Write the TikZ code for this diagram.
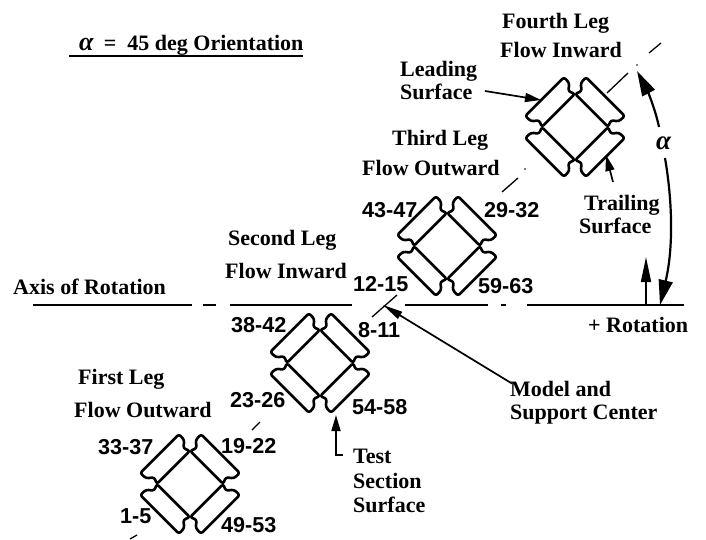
\documentclass[tikz,border=0pt]{standalone}
\usepackage{fontspec}
\setmainfont{Liberation Serif}
\newfontfamily\numfont{Liberation Sans}
\usetikzlibrary{arrows.meta}
\tikzset{
  txt/.style={anchor=base west,inner sep=0pt,font=\bfseries\fontsize{22}{25}\selectfont},
  num/.style={anchor=base west,inner sep=0pt,font=\numfont\bfseries\fontsize{21.6}{24}\selectfont},
  axisline/.style={line width=2.2pt},
  diagline/.style={line width=1.3pt},
  lead/.style={line width=1.7pt,-{Stealth[length=16pt,width=9pt,inset=0pt]}},
  bigarc/.style={line width=2.2pt,-{Stealth[length=25pt,width=14pt,inset=0pt]}},
  pics/barsection/.style={code={
    \foreach \ang in {45,135,225,315} {
      \draw[line width=2.6pt,line join=round,rounded corners=2.5pt,rotate=\ang]
        (23.5,-23.5) -- (20.5,-30) -- (27,-35) -- (27.5,-43) -- (-27.5,-43)
        -- (-27,-35) -- (-20.5,-30) -- (-23.5,-23.5) -- cycle;
    }
  }}
}
\begin{document}
\begin{tikzpicture}[x=1pt,y=-1pt]
  \useasboundingbox (0,0) rectangle (706,539);
  % sections
  \pic (legone) at (190,484) {barsection};
  \pic (legtwo) at (320,363) {barsection};
  \pic (legthree) at (447,246) {barsection};
  \pic (legfour) at (575,127) {barsection};
  % axis
  \draw[axisline] (33,305) -- (192,305);
  \draw[axisline] (203,305) -- (216,305);
  \draw[axisline] (230,305) -- (352,305);
  \draw[axisline] (405,305) -- (488,305);
  \draw[axisline] (501,305) -- (506,305);
  \draw[axisline] (527,305) -- (684,305);
  % line through the sections
  \draw[diagline] (130,539) -- (137,535);
  \draw[diagline] (252,430) -- (260,422);
  \draw[diagline] (372,317) -- (397,295);
  \draw[diagline] (502,192) -- (518,178);
  \fill (525,169) circle (0.9pt);
  \draw[diagline] (607,93) -- (628,73);
  \fill (637,65) circle (0.9pt);
  \draw[diagline] (649,53) -- (661,43);
  % title
  \node[txt] (title) at (79,50) {{\fontsize{26}{26}\selectfont\textit{α}}\hspace{10pt}=\hspace{11pt}45 deg Orientation};
  \coordinate (ulinea) at (69,56);
  \coordinate (ulineb) at (303,56);
  \draw[line width=1.8pt] (ulinea) -- (ulineb);
  % leg labels
  \node[txt] (fourtha) at (502,28) {Fourth Leg};
  \node[txt] (fourthb) at (500,57) {Flow Inward};
  \node[txt] (thirda) at (392,145) {Third Leg};
  \node[txt] (thirdb) at (362,175) {Flow Outward};
  \node[txt] (seconda) at (228,245) {Second Leg};
  \node[txt] (secondb) at (225,278) {Flow Inward};
  \node[txt] (firsta) at (78,384) {First Leg};
  \node[txt] (firstb) at (74,417) {Flow Outward};
  % other labels
  \node[txt] (leadinga) at (400,76) {Leading};
  \node[txt] (leadingb) at (400,99) {Surface};
  \node[txt] (trailinga) at (584,210) {Trailing};
  \node[txt] (trailingb) at (579,233) {Surface};
  \node[txt] (axislabel) at (13,294) {Axis of Rotation};
  \node[txt] (rotlabel) at (588,332) {+ Rotation};
  \node[txt] (modela) at (510,396) {Model and};
  \node[txt] (modelb) at (510,419) {Support Center};
  \node[txt] (testa) at (353,463) {Test};
  \node[txt] (testb) at (353,488) {Section};
  \node[txt] (testc) at (353,512) {Surface};
  \node[txt,font=\bfseries\fontsize{27}{27}\selectfont] (alpha) at (656,149) {\textit{α}};
  % tap numbers
  \node[num] (tapa) at (362,217) {43-47};
  \node[num] (tapb) at (484,217) {29-32};
  \node[num] (tapc) at (353,291) {12-15};
  \node[num] (tapd) at (478,293) {59-63};
  \node[num] (tape) at (231,332) {38-42};
  \node[num] (tapf) at (358,337) {8-11};
  \node[num] (tapg) at (230,407) {23-26};
  \node[num] (taph) at (352,414) {54-58};
  \node[num] (tapi) at (98,454) {33-37};
  \node[num] (tapj) at (221,453) {19-22};
  \node[num] (tapk) at (120,523) {1-5};
  \node[num] (tapl) at (221,532) {49-53};
  % arrows
  \coordinate (leadtail) at (485,91);
  \coordinate (leadtip) at (541,100);
  \draw[lead] (leadtail) -- (leadtip);
  \coordinate (trailtail) at (613,182);
  \coordinate (trailtip) at (606,155);
  \draw[lead] (trailtail) -- (trailtip);
  \coordinate (testtail) at (343,455);
  \coordinate (testtip) at (336,415);
  \draw[lead] (testtail) -| (testtip);
  \coordinate (modeltip) at (383,305);
  \draw[line width=1.7pt,-{Stealth[length=20pt,width=8pt,inset=0pt]}] (modela.north west) ++(2,3) -- (modeltip);
  \coordinate (rottail) at (646,305);
  \coordinate (rottip) at (646,257);
  \draw[line width=1.7pt,-{Stealth[length=25pt,width=10pt,inset=0pt]}] (rottail) -- (rottip);
  \coordinate (alphatipa) at (637,71);
  \coordinate (alphatailb) at (659,127);
  \draw[bigarc] (alphatailb) .. controls (655,108) and (647,90) .. (alphatipa);
  \coordinate (alphatailc) at (665,158);
  \coordinate (alphatipc) at (660,305);
  \draw[bigarc] (alphatailc) .. controls (673,205) and (673,250) .. (alphatipc);
\end{tikzpicture}
\end{document}
